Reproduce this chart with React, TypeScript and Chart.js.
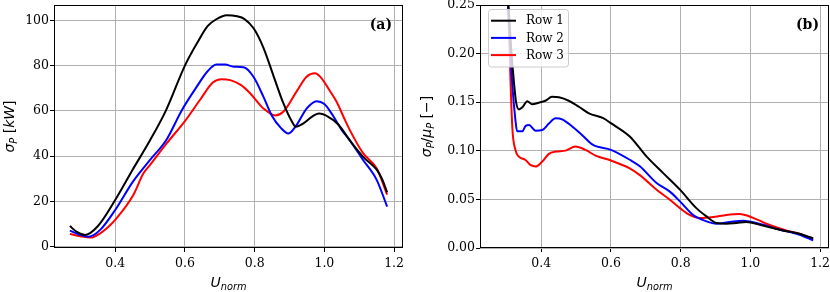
import React, { useEffect, useRef } from "react";
import { Chart, registerables } from "chart.js";
Chart.register(...registerables);

// ---------- data ----------
const xTicks = [0.4, 0.6, 0.8, 1.0, 1.2];
const yTicksA = [0, 20, 40, 60, 80, 100];
const yTicksB = [0, 0.05, 0.1, 0.15, 0.2, 0.25];
const seriesLabels = ["Row 1", "Row 2", "Row 3"];
const seriesColors = ["#000000", "#0000ff", "#ff0000"];

// panel (a): sigma_P [kW]
const aRow1X = [0.27, 0.29, 0.314, 0.35, 0.4, 0.45, 0.5, 0.545, 0.6, 0.635, 0.665, 0.69, 0.72, 0.75, 0.77, 0.797, 0.825, 0.854, 0.882, 0.906, 0.918, 0.94, 0.965, 0.985, 1.01, 1.04, 1.075, 1.111, 1.15, 1.165, 1.18];
const aRow1Y = [9.1, 6.5, 5.2, 9, 20.6, 34, 47, 60, 80, 90, 97.5, 100.5, 102.3, 101.8, 100.7, 96.5, 88, 75.5, 63.5, 55.5, 53, 54.5, 57.5, 58.8, 57.5, 54, 46.5, 39.7, 34, 30, 24];
const aRow2X = [0.27, 0.295, 0.324, 0.357, 0.4, 0.45, 0.5, 0.548, 0.59, 0.634, 0.665, 0.69, 0.715, 0.74, 0.768, 0.797, 0.825, 0.849, 0.875, 0.897, 0.92, 0.949, 0.978, 1.0, 1.02, 1.05, 1.073, 1.111, 1.15, 1.18];
const aRow2Y = [7.1, 5.5, 4.4, 7.4, 16.2, 28.5, 38.3, 47.5, 60, 70.7, 77.5, 80.5, 80.5, 79.5, 79.3, 75, 66.3, 58, 52.5, 50, 53.7, 61, 64.3, 63, 59, 51.5, 47, 38.3, 29.5, 17.7];
const aRow3X = [0.27, 0.3, 0.33, 0.357, 0.376, 0.4, 0.452, 0.481, 0.5, 0.548, 0.6, 0.643, 0.68, 0.705, 0.73, 0.76, 0.787, 0.825, 0.859, 0.882, 0.92, 0.949, 0.973, 0.992, 1.015, 1.035, 1.059, 1.073, 1.111, 1.15, 1.18];
const aRow3Y = [5.6, 4.6, 4.0, 5.9, 8.1, 11.8, 22.8, 32.4, 36.1, 45.7, 55.5, 64.8, 72.5, 74, 73.6, 71.5, 67.8, 61.1, 58, 59.6, 68.5, 75.1, 76.6, 74.4, 69, 64, 56, 51.5, 41.3, 34.6, 23];

// panel (b): sigma_P / mu_P [-]
const bRow1X = [0.27, 0.29, 0.305, 0.315, 0.322, 0.328, 0.336, 0.346, 0.36, 0.374, 0.393, 0.412, 0.431, 0.451, 0.479, 0.508, 0.537, 0.578, 0.6, 0.654, 0.702, 0.75, 0.798, 0.845, 0.874, 0.903, 0.931, 0.96, 0.989, 1.027, 1.084, 1.132, 1.18];
const bRow1Y = [0.45, 0.33, 0.255, 0.2, 0.17, 0.15, 0.1426, 0.1447, 0.151, 0.148, 0.1495, 0.1515, 0.1556, 0.155, 0.1515, 0.1453, 0.1385, 0.1336, 0.1284, 0.1147, 0.0942, 0.077, 0.06, 0.041, 0.0325, 0.0257, 0.025, 0.0258, 0.0267, 0.024, 0.0188, 0.0154, 0.01];
const bRow2X = [0.27, 0.29, 0.305, 0.317, 0.326, 0.331, 0.346, 0.355, 0.365, 0.384, 0.403, 0.422, 0.441, 0.46, 0.489, 0.517, 0.549, 0.6, 0.654, 0.683, 0.731, 0.769, 0.798, 0.836, 0.874, 0.903, 0.941, 0.979, 1.017, 1.084, 1.141, 1.18];
const bRow2Y = [0.45, 0.33, 0.25, 0.169, 0.132, 0.12, 0.12, 0.1255, 0.1265, 0.1207, 0.1214, 0.128, 0.1334, 0.1324, 0.125, 0.1163, 0.106, 0.101, 0.0908, 0.084, 0.0668, 0.058, 0.048, 0.034, 0.0274, 0.025, 0.0267, 0.028, 0.0257, 0.0188, 0.0137, 0.0078];
const bRow3X = [0.27, 0.29, 0.305, 0.317, 0.326, 0.336, 0.355, 0.369, 0.384, 0.403, 0.422, 0.441, 0.47, 0.498, 0.527, 0.556, 0.6, 0.654, 0.683, 0.731, 0.769, 0.798, 0.826, 0.855, 0.893, 0.931, 0.969, 1.008, 1.046, 1.103, 1.141, 1.18];
const bRow3Y = [0.5, 0.36, 0.25, 0.125, 0.101, 0.094, 0.0906, 0.0855, 0.0838, 0.0889, 0.0968, 0.0992, 0.1002, 0.1043, 0.1009, 0.095, 0.09, 0.082, 0.075, 0.06, 0.0497, 0.041, 0.034, 0.0308, 0.0318, 0.034, 0.035, 0.031, 0.025, 0.018, 0.0147, 0.009];

const X_MIN = 0.2245;
const X_MAX = 1.2255;

// ---------- rich text helper ----------
type Part = { t: string; it?: boolean; sub?: boolean };
const SANS = "'DejaVu Sans'";
const SERIF = "'DejaVu Serif'";

function partFont(p: Part, size: number) {
  const s = p.sub ? size * 0.7 : size;
  return `${p.it ? "oblique " : ""}${s}px ${SANS}`;
}
function richWidth(ctx: CanvasRenderingContext2D, parts: Part[], size: number) {
  let w = 0;
  for (const p of parts) {
    ctx.font = partFont(p, size);
    w += ctx.measureText(p.t).width;
  }
  return w;
}
function drawRich(ctx: CanvasRenderingContext2D, parts: Part[], size: number, cx: number, baseline: number) {
  const w = richWidth(ctx, parts, size);
  let x = cx - w / 2;
  ctx.textAlign = "left";
  ctx.textBaseline = "alphabetic";
  for (const p of parts) {
    ctx.font = partFont(p, size);
    ctx.fillText(p.t, x, baseline + (p.sub ? size * 0.22 : 0));
    x += ctx.measureText(p.t).width;
  }
}

const xTitleParts: Part[] = [{ t: "U", it: true }, { t: "norm", it: true, sub: true }];
const yTitleA: Part[] = [{ t: "σ", it: true }, { t: "P", it: true, sub: true }, { t: " [" }, { t: "kW", it: true }, { t: "]" }];
const yTitleB: Part[] = [
  { t: "σ", it: true }, { t: "P", it: true, sub: true }, { t: "/" },
  { t: "μ", it: true }, { t: "P", it: true, sub: true }, { t: " [−]" },
];

const decorPlugin = {
  id: "decor",
  afterDatasetsDraw(chart: any, _args: any, opts: any) {
    const ctx: CanvasRenderingContext2D = chart.ctx;
    const a = chart.chartArea;
    ctx.save();
    // frame
    ctx.strokeStyle = "#000";
    ctx.lineWidth = 1;
    ctx.strokeRect(Math.round(a.left) + 0.5, Math.round(a.top) + 0.5, Math.round(a.right - a.left) - 1, Math.round(a.bottom - a.top) - 1);
    // x title
    ctx.fillStyle = "#000";
    drawRich(ctx, xTitleParts, 14, (a.left + a.right) / 2, opts.xTitleBaseline);
    // y title
    ctx.save();
    ctx.translate(opts.yTitleX, (a.top + a.bottom) / 2);
    ctx.rotate(-Math.PI / 2);
    drawRich(ctx, opts.yTitle, 14, 0, 0);
    ctx.restore();
    // panel label
    ctx.font = `bold 14px ${SERIF}`;
    ctx.textAlign = "right";
    ctx.textBaseline = "alphabetic";
    ctx.fillText(opts.panel, a.right - opts.panelInset, opts.panelBaseline);
    // legend
    if (opts.legend) {
      const lx = a.left + 8, ly = 9, lw = 80, lh = 57.5;
      ctx.beginPath();
      (ctx as any).roundRect(lx + 0.5, ly + 0.5, lw, lh, 3);
      ctx.fillStyle = "rgba(255,255,255,0.8)";
      ctx.fill();
      ctx.strokeStyle = "#cccccc";
      ctx.lineWidth = 1;
      ctx.stroke();
      chart.data.datasets.forEach((ds: any, i: number) => {
        const yy = ly + 11.7 + i * 17.2;
        ctx.strokeStyle = ds.borderColor;
        ctx.lineWidth = 2;
        ctx.beginPath();
        ctx.moveTo(lx + 3, yy);
        ctx.lineTo(lx + 28, yy);
        ctx.stroke();
        ctx.fillStyle = "#000";
        ctx.font = `12px ${SERIF}`;
        ctx.textAlign = "left";
        ctx.textBaseline = "middle";
        ctx.fillText(ds.label, lx + 38, yy + 0.5);
      });
    }
    ctx.restore();
  },
};

function buildDatasets(xs: number[][], ys: number[][]) {
  return xs.map((xArr, i) => ({
    label: seriesLabels[i],
    data: xArr.map((x, j) => ({ x, y: ys[i][j] })),
    borderColor: seriesColors[i],
    backgroundColor: seriesColors[i],
    borderWidth: 2,
    pointRadius: 0,
    fill: false,
    cubicInterpolationMode: "monotone" as const,
  }));
}

function makeConfig(p: {
  datasets: any[];
  yMin: number;
  yMax: number;
  yTicks: number[];
  yDec: number;
  yAxisWidth: number;
  padRight: number;
  decor: any;
}) {
  const tickFont = { family: SERIF, size: 12.5 };
  const grid = { color: "#b0b0b0", lineWidth: 1, tickLength: 4, tickColor: "#000", drawTicks: true };
  return {
    type: "line" as const,
    data: { datasets: p.datasets },
    plugins: [decorPlugin],
    options: {
      animation: false as const,
      responsive: false,
      maintainAspectRatio: false,
      layout: { padding: { top: 5, right: p.padRight, left: 0, bottom: 0 } },
      plugins: { legend: { display: false }, tooltip: { enabled: false }, decor: p.decor },
      scales: {
        x: {
          type: "linear" as const,
          min: X_MIN,
          max: X_MAX,
          afterBuildTicks: (s: any) => { s.ticks = xTicks.map((v) => ({ value: v })); },
          afterFit: (s: any) => { s.height = 44; s.paddingLeft = 0; s.paddingRight = 0; },
          ticks: { font: tickFont, color: "#000", padding: 4, autoSkip: false, maxRotation: 0, callback: (v: any) => Number(v).toFixed(1) },
          grid,
          border: { display: false },
        },
        y: {
          type: "linear" as const,
          min: p.yMin,
          max: p.yMax,
          afterBuildTicks: (s: any) => { s.ticks = p.yTicks.map((v) => ({ value: v })); },
          afterFit: (s: any) => { s.width = p.yAxisWidth; s.paddingTop = 0; s.paddingBottom = 0; },
          ticks: { font: tickFont, color: "#000", padding: 1, autoSkip: false, callback: (v: any) => Number(v).toFixed(p.yDec) },
          grid,
          border: { display: false },
        },
      },
    },
  };
}

function Panel(props: { left: number; config: any }) {
  const ref = useRef<HTMLCanvasElement | null>(null);
  useEffect(() => {
    if (!ref.current) return;
    const chart = new Chart(ref.current, props.config);
    return () => chart.destroy();
  }, []);
  return (
    <div style={{ position: "absolute", left: props.left, top: 0, width: 415, height: 292 }}>
      <canvas ref={ref} width={415} height={292} style={{ width: 415, height: 292, display: "block" }} />
    </div>
  );
}

export default function App() {
  const cfgA = makeConfig({
    datasets: buildDatasets([aRow1X, aRow2X, aRow3X], [aRow1Y, aRow2Y, aRow3Y]),
    yMin: -0.6,
    yMax: 106.8,
    yTicks: yTicksA,
    yDec: 0,
    yAxisWidth: 54,
    padRight: 12,
    decor: { xTitleBaseline: 287, yTitle: yTitleA, yTitleX: 13.5, panel: "(a)", panelInset: 11, panelBaseline: 28.5, legend: false },
  });
  const cfgB = makeConfig({
    datasets: buildDatasets([bRow1X, bRow2X, bRow3X], [bRow1Y, bRow2Y, bRow3Y]),
    yMin: 0,
    yMax: 0.25,
    yTicks: yTicksB,
    yDec: 2,
    yAxisWidth: 65,
    padRight: 1,
    decor: { xTitleBaseline: 287, yTitle: yTitleB, yTitleX: 16, panel: "(b)", panelInset: 10, panelBaseline: 28.5, legend: true },
  });
  return (
    <div style={{ position: "fixed", left: 0, top: 0, width: 830, height: 292, background: "#fff", overflow: "hidden" }}>
      <Panel left={0} config={cfgA} />
      <Panel left={415} config={cfgB} />
    </div>
  );
}
